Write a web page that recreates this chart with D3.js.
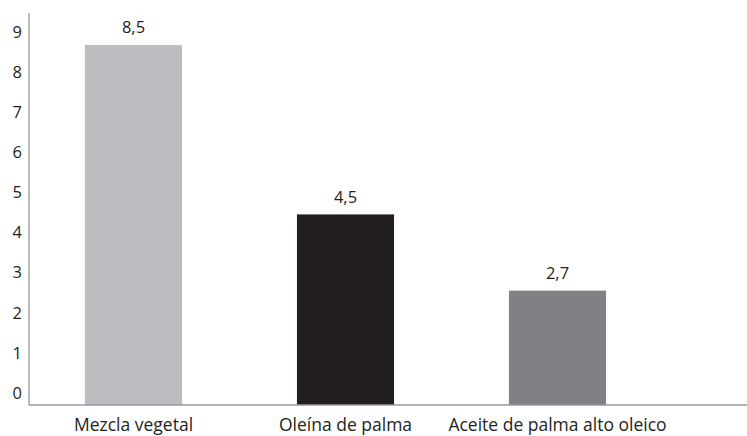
<!DOCTYPE html>
<html>
<head>
<meta charset="utf-8">
<script src="https://cdn.jsdelivr.net/npm/d3@7/dist/d3.min.js"></script>
<style>
  html, body { margin: 0; padding: 0; background: #fff; }
  svg text { font-family: "Open Sans", "DejaVu Sans", sans-serif; fill: #231f20; }
</style>
</head>
<body>
<svg id="chart" width="747" height="436"></svg>
<script>
const categories = ["Mezcla vegetal", "Oleína de palma", "Aceite de palma alto oleico"];
const values = [8.5, 4.5, 2.7];
const valueLabels = ["8,5", "4,5", "2,7"];
const tickValues = [0, 1, 2, 3, 4, 5, 6, 7, 8, 9];
const barColors = ["#bcbdc0", "#231f20", "#808184"];

const svg = d3.select("#chart");
const W = 747, H = 436;
const axisX = 29, baseY = 405, topY = 13;

const x = d3.scaleBand()
  .domain(categories)
  .range([27.5, 663.5])
  .paddingInner(0.542)
  .paddingOuter(0.271);

const y = d3.scaleLinear().domain([0, 8.5]).range([baseY, 45]);
// tick labels sit on their own scale, as in the reference
const yTicks = d3.scaleLinear().domain([0, 9]).range([393, 32]);

// bars
svg.append("g").selectAll("rect")
  .data(values)
  .join("rect")
  .attr("x", (d, i) => x(categories[i]))
  .attr("width", x.bandwidth())
  .attr("y", d => y(d))
  .attr("height", d => y(0) - y(d))
  .attr("fill", (d, i) => barColors[i]);

// value labels
svg.append("g").selectAll("text")
  .data(values)
  .join("text")
  .attr("x", (d, i) => x(categories[i]) + x.bandwidth() / 2)
  .attr("y", d => y(d) - 16)
  .attr("text-anchor", "middle")
  .attr("dominant-baseline", "middle")
  .style("font-size", "16.5px")
  .text((d, i) => valueLabels[i]);

// y axis labels
const yAxis = d3.axisLeft(yTicks).tickValues(tickValues).tickSize(0).tickPadding(0)
  .tickFormat(d3.format("d"));
const gy = svg.append("g").attr("transform", "translate(22,0)").call(yAxis);
gy.select(".domain").remove();
gy.selectAll("text").style("font-size", "16.5px").attr("fill", "#231f20");

// x axis labels
const xAxis = d3.axisBottom(x).tickSize(0).tickPadding(0);
const gx = svg.append("g").attr("transform", `translate(0,${baseY})`).call(xAxis);
gx.select(".domain").remove();
gx.selectAll("text").style("font-size", "17.5px").attr("fill", "#231f20")
  .attr("dy", null).attr("y", 26);

// axis lines
svg.append("line").attr("x1", axisX).attr("x2", axisX).attr("y1", topY).attr("y2", baseY)
  .attr("stroke", "#9a9a9c").attr("stroke-width", 1.3);
svg.append("line").attr("x1", axisX).attr("x2", W).attr("y1", baseY).attr("y2", baseY)
  .attr("stroke", "#9a9a9c").attr("stroke-width", 1.5);
</script>
</body>
</html>
